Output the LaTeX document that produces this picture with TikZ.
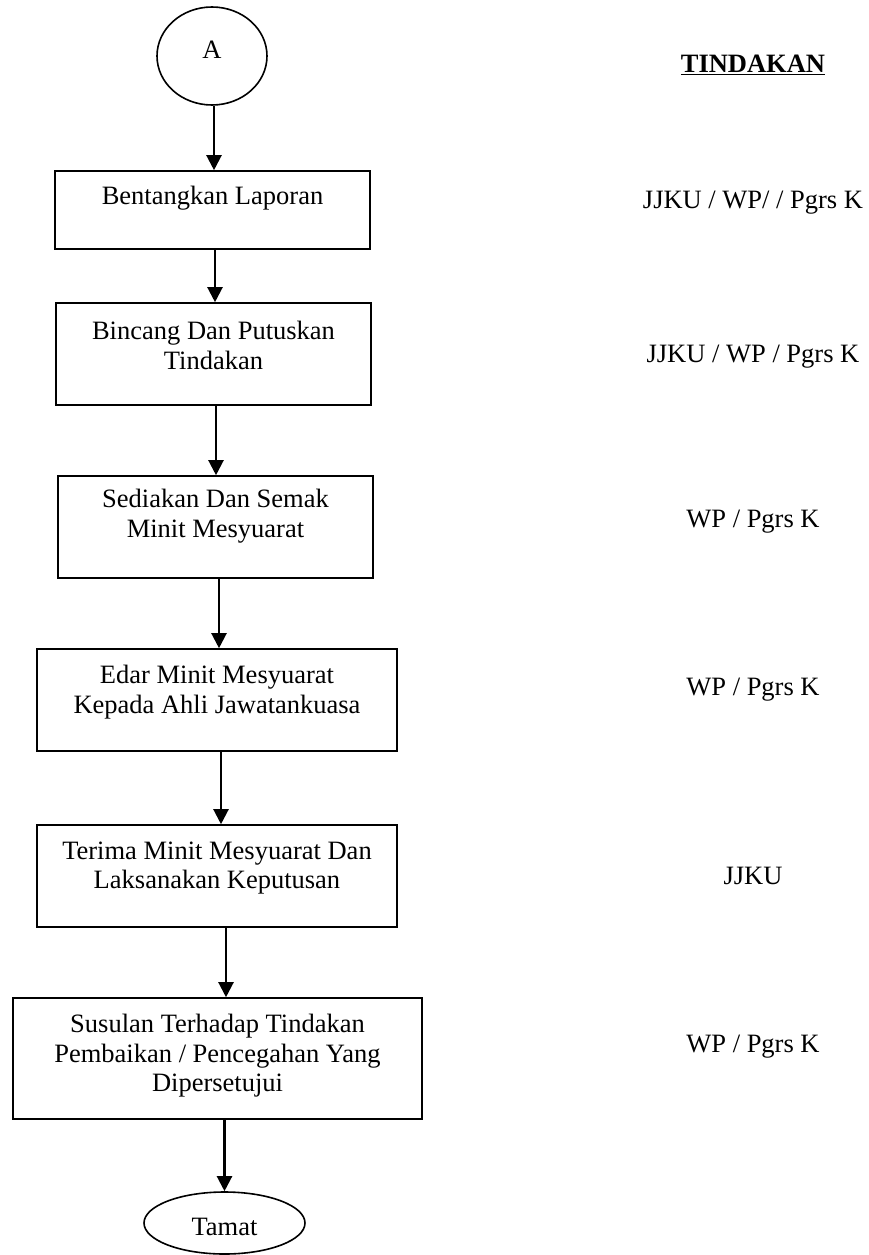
\documentclass[tikz,border=0pt]{standalone}
\usepackage{fontspec}
\setmainfont{Liberation Serif}
\usetikzlibrary{shapes.geometric,arrows.meta,positioning}

\tikzset{
	stepbox/.style={draw,line width=1.6pt,rectangle,minimum height=102pt,inner sep=0pt},
	steptext/.style={font=\fontsize{26.5}{29.5}\selectfont,align=center,inner sep=0pt},
	endpoint/.style={draw,ellipse,line width=1.6pt,inner sep=0pt},
	arr/.style={->,line width=2.2pt},
	pelaku/.style={font=\fontsize{26.5}{29.5}\selectfont,inner sep=0pt}
}

\begin{document}
\begin{tikzpicture}[line cap=butt,>={Triangle[length=15pt,width=15pt]},x=1pt,y=-1pt]
		\useasboundingbox (0,0) rectangle (869,1255);
		% penghubung A dan kotak langkah
		\node[endpoint,minimum width=110pt,minimum height=98pt] (mula) at (212,56) {};
		\node[steptext] (tmula) at ([yshift=6pt]mula.center) {A};
		\node[stepbox,minimum width=315pt,minimum height=78pt] (b1) at (212.5,210) {};
		\node[steptext] (t1) at ([yshift=12pt]b1.center) {Bentangkan Laporan};
		\node[stepbox,minimum width=315pt] (b2) at (213.5,354) {};
		\node[steptext] (t2) at ([yshift=8.5pt]b2.center) {Bincang Dan Putuskan\\Tindakan};
		\node[stepbox,minimum width=315pt] (b3) at (215.5,527) {};
		\node[steptext] (t3) at ([yshift=11pt]b3.center) {Sediakan Dan Semak\\Minit Mesyuarat};
		\node[stepbox,minimum width=360pt] (b4) at (217,700) {};
		\node[steptext] (t4) at ([yshift=8pt]b4.center) {Edar Minit Mesyuarat\\Kepada Ahli Jawatankuasa};
		\node[stepbox,minimum width=360pt] (b5) at (217,876) {};
		\node[steptext] (t5) at ([yshift=8pt]b5.center) {Terima Minit Mesyuarat Dan\\Laksanakan Keputusan};
		\node[stepbox,minimum width=409pt,minimum height=121pt] (b6) at (217.5,1058.5) {};
		\node[steptext] (t6) at ([yshift=2.5pt]b6.center) {Susulan Terhadap Tindakan\\Pembaikan / Pencegahan Yang\\Dipersetujui};
		\node[endpoint,minimum width=161pt,minimum height=62pt] (tamat) at (224.5,1223) {};
		\node[steptext] (ttamat) at ([yshift=-4pt]tamat.center) {Tamat};
		% anak panah
		\draw[arr] ([xshift=2pt]mula.south) -- ([xshift=2pt]mula.south |- b1.north);
		\draw[arr] ([xshift=2.5pt]b1.south) -- ([xshift=2.5pt]b1.south |- b2.north);
		\draw[arr] ([xshift=2.5pt]b2.south) -- ([xshift=2.5pt]b2.south |- b3.north);
		\draw[arr] ([xshift=3.5pt]b3.south) -- ([xshift=3.5pt]b3.south |- b4.north);
		\draw[arr] ([xshift=4pt]b4.south) -- ([xshift=4pt]b4.south |- b5.north);
		\draw[arr] ([xshift=9pt]b5.south) -- ([xshift=9pt]b5.south |- b6.north);
		\draw[arr] (b6.south -| tamat.north) -- (tamat.north);
		% lajur tindakan
		\node[pelaku] (tindakan) at (753,65) {\underline{\textbf{TINDAKAN}}};
		\node[pelaku] (p1) at (753,203) {JJKU / WP/ / Pgrs K};
		\node[pelaku] (p2) at (753,357) {JJKU / WP / Pgrs K};
		\node[pelaku] (p3) at (753,522) {WP / Pgrs K};
		\node[pelaku] (p4) at (753,690) {WP / Pgrs K};
		\node[pelaku] (p5) at (753,876) {JJKU};
		\node[pelaku] (p6) at (753,1047) {WP / Pgrs K};
\end{tikzpicture}
\end{document}
